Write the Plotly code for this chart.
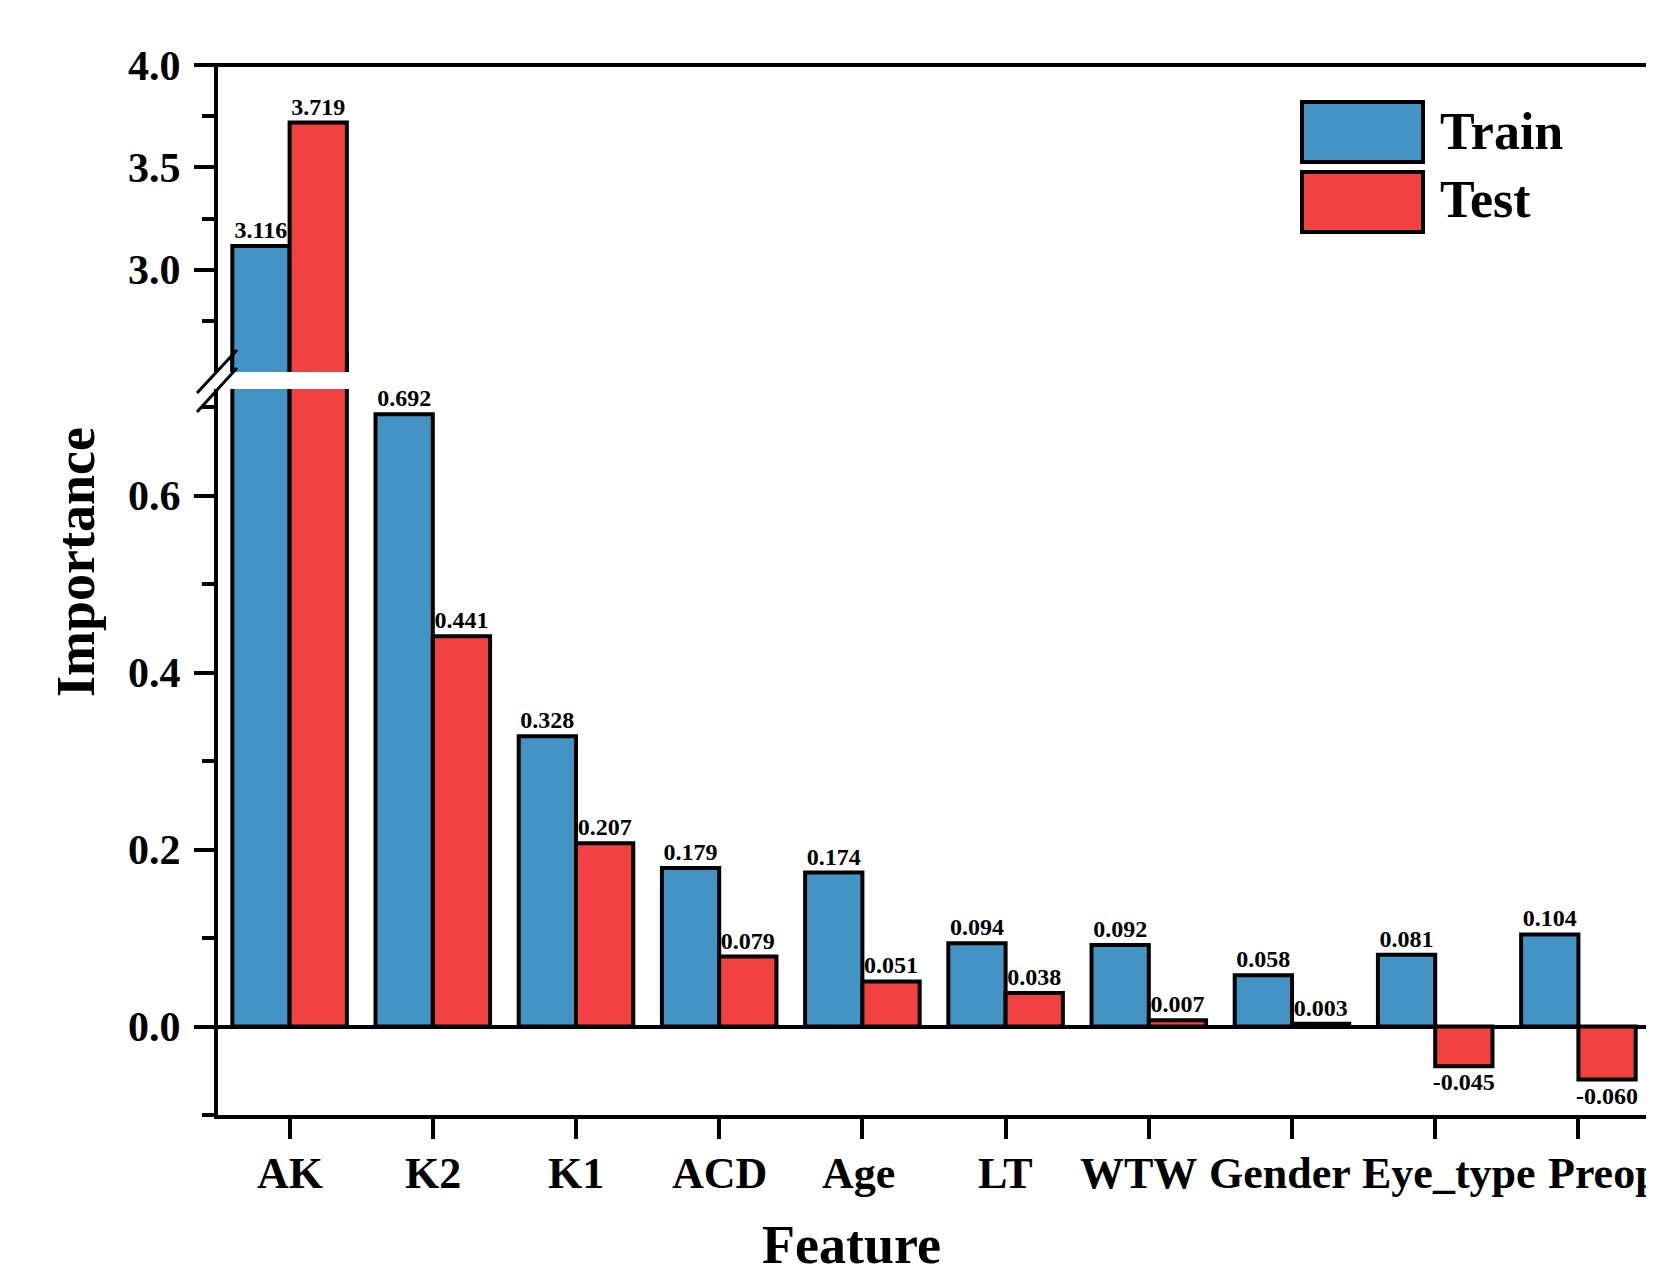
import plotly.graph_objects as go

# ---------------- data ----------------
features = ["AK", "K2", "K1", "ACD", "Age", "LT", "WTW", "Gender", "Eye_type", "Preop"]
train = [3.116, 0.692, 0.328, 0.179, 0.174, 0.094, 0.092, 0.058, 0.081, 0.104]
test = [3.719, 0.441, 0.207, 0.079, 0.051, 0.038, 0.007, 0.003, -0.045, -0.060]
series_names = ["Train", "Test"]
lower_major_ticks = [0.0, 0.2, 0.4, 0.6]
lower_minor_ticks = [-0.1, 0.1, 0.3, 0.5, 0.7]
upper_major_ticks = [3.0, 3.5, 4.0]
upper_minor_ticks = [2.75, 3.25, 3.75]

# ---------------- styling ----------------
OFF = 8  # page body margin
W, H = 1646, 1262
ML, MR, MT, MB = 210, 4, 57, 155
PW, PH = W - ML - MR, H - MT - MB
BLUE = "#4394C4"
RED = "#F24141"
FONT = "Liberation Serif"
LOWER_RANGE = [-0.1, 0.76]
UPPER_RANGE = [2.5, 4.0]


def px_x(px):
    """page pixel x -> paper coordinate"""
    return (px - OFF - ML) / PW


def px_y(py):
    """page pixel y -> paper coordinate"""
    return (H - MB - (py - OFF)) / PH


lower_domain = [0, px_y(354)]
upper_domain = [px_y(372), 1]


def fmt(v):
    return f"{v:.3f}"


fig = go.Figure()
colors = [BLUE, RED]
for name, vals, col in zip(series_names, [train, test], colors):
    lower_text = [fmt(v) if v <= LOWER_RANGE[1] else "" for v in vals]
    upper_text = [fmt(v) if v > LOWER_RANGE[1] else "" for v in vals]
    common = dict(
        x=features, y=vals, name=name,
        marker=dict(color=col, line=dict(color="black", width=4)),
        textposition="outside", constraintext="none",
        textfont=dict(family=FONT, size=24, color="black", weight="bold"),
        hoverinfo="skip", showlegend=False,
    )
    fig.add_trace(go.Bar(yaxis="y", text=lower_text, cliponaxis=True, **common))
    fig.add_trace(go.Bar(yaxis="y2", text=upper_text, cliponaxis=True, **common))

tickfont = dict(family=FONT, size=42, color="black", weight="bold")
axis_common = dict(
    showline=True, linewidth=4, linecolor="black", ticks="outside",
    ticklen=20, tickwidth=4, tickcolor="black", showgrid=False,
    tickfont=tickfont, ticklabelstandoff=5,
)

fig.update_layout(
    width=W, height=H,
    margin=dict(l=ML, r=MR, t=MT, b=MB),
    paper_bgcolor="white", plot_bgcolor="rgba(0,0,0,0)",
    barmode="group", bargap=0.2, bargroupgap=0,
    xaxis=dict(
        type="category", range=[-0.5, len(features) - 0.5], anchor="y",
        showline=True, linewidth=4, linecolor="black", ticks="outside",
        ticklen=20, tickwidth=4, tickcolor="black", showgrid=False,
        showticklabels=False, zeroline=False,
    ),
    yaxis=dict(
        domain=lower_domain, range=LOWER_RANGE, anchor="x",
        tickmode="array", tickvals=lower_major_ticks,
        ticktext=[f"{v:.1f}" for v in lower_major_ticks],
        minor=dict(tickmode="array", tickvals=lower_minor_ticks, ticks="outside",
                   ticklen=12, tickwidth=4, tickcolor="black"),
        zeroline=True, zerolinewidth=4, zerolinecolor="black",
        **axis_common,
    ),
    yaxis2=dict(
        domain=upper_domain, range=UPPER_RANGE, anchor="x",
        tickmode="array", tickvals=upper_major_ticks,
        ticktext=[f"{v:.1f}" for v in upper_major_ticks],
        minor=dict(tickmode="array", tickvals=upper_minor_ticks, ticks="outside",
                   ticklen=12, tickwidth=4, tickcolor="black"),
        zeroline=False,
        **axis_common,
    ),
)

shapes = []
# frame: top and right
shapes.append(dict(type="line", xref="paper", yref="paper", x0=px_x(214), x1=px_x(1652),
                   y0=1, y1=1, line=dict(color="black", width=4), layer="above"))
shapes.append(dict(type="line", xref="paper", yref="paper", x0=1, x1=1,
                   y0=px_y(1117), y1=px_y(63), line=dict(color="black", width=4), layer="above"))
# axis break: white band + double slash
shapes.append(dict(type="rect", xref="paper", yref="paper", x0=px_x(205), x1=px_x(353),
                   y0=px_y(389), y1=px_y(372), fillcolor="white", line=dict(width=0), layer="above"))
shapes.append(dict(type="line", xref="paper", yref="paper", x0=px_x(197), x1=px_x(237),
                   y0=px_y(393), y1=px_y(350), line=dict(color="black", width=3), layer="above"))
shapes.append(dict(type="line", xref="paper", yref="paper", x0=px_x(197), x1=px_x(237),
                   y0=px_y(412), y1=px_y(368), line=dict(color="black", width=3), layer="above"))
# custom legend patches
for (ytop, ybot), col in zip([(102, 162), (172, 232)], colors):
    shapes.append(dict(type="rect", xref="paper", yref="paper", x0=px_x(1302), x1=px_x(1423),
                       y0=px_y(ybot), y1=px_y(ytop), fillcolor=col,
                       line=dict(color="black", width=4), layer="above"))
fig.update_layout(shapes=shapes)

ann = []
# x category labels (shifted like the original to avoid overlap)
label_shift = {"Age": -4, "WTW": -10, "Gender": -12, "Eye_type": 14}
for f in features:
    if f == "Preop":
        ann.append(dict(x=f, xref="x", y=px_y(1173), yref="paper", text=f, showarrow=False,
                        xanchor="left", yanchor="middle", xshift=-32,
                        font=dict(family=FONT, size=44, color="black", weight="bold")))
    else:
        ann.append(dict(x=f, xref="x", y=px_y(1173), yref="paper", text=f, showarrow=False,
                        xanchor="center", yanchor="middle", xshift=label_shift.get(f, 0),
                        font=dict(family=FONT, size=44, color="black", weight="bold")))
# axis titles
ann.append(dict(x=px_x(851), y=px_y(1245), xref="paper", yref="paper", text="Feature",
                showarrow=False, xanchor="center", yanchor="middle",
                font=dict(family=FONT, size=54, color="black", weight="bold")))
ann.append(dict(x=px_x(76), y=px_y(562), xref="paper", yref="paper", text="Importance",
                showarrow=False, xanchor="center", yanchor="middle", textangle=-90,
                font=dict(family=FONT, size=54, color="black", weight="bold")))
# legend texts
for name, yc in zip(series_names, [132, 199]):
    ann.append(dict(x=px_x(1438), y=px_y(yc), xref="paper", yref="paper", text=name,
                    showarrow=False, xanchor="left", yanchor="middle",
                    font=dict(family=FONT, size=52, color="black", weight="bold")))
fig.update_layout(annotations=ann)

fig.write_html("out.html")
